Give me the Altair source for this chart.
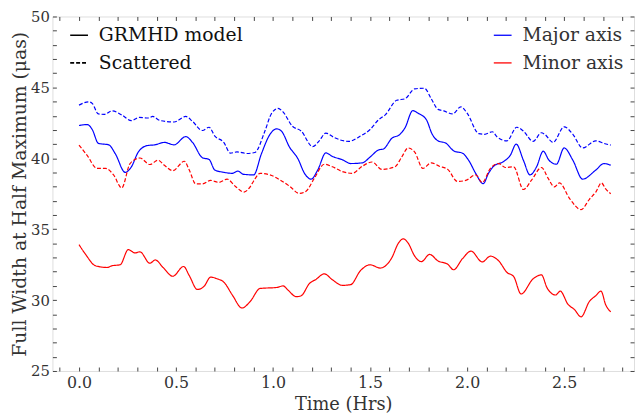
import altair as alt
import pandas as pd

# ---- data ----
major_scat_t = [0.0, 0.05, 0.068, 0.10, 0.13, 0.17, 0.22, 0.27, 0.31, 0.356, 0.38, 0.416, 0.49, 0.55, 0.585,
                0.636, 0.67, 0.70, 0.746, 0.78, 0.814, 0.865, 0.906, 0.958, 0.99, 1.026, 1.05, 1.10, 1.145,
                1.204, 1.238, 1.272, 1.315, 1.39, 1.45, 1.50, 1.544, 1.578, 1.637, 1.68, 1.73, 1.78, 1.815,
                1.85, 1.88, 1.925, 1.968, 2.0, 2.06, 2.09, 2.13, 2.155, 2.205, 2.256, 2.29, 2.34, 2.383,
                2.40, 2.443, 2.50, 2.545, 2.595, 2.663, 2.705, 2.74]
major_scat_w = [43.75, 43.98, 43.87, 43.13, 43.1, 43.34, 43.06, 42.65, 42.88, 42.84, 42.95, 42.67, 42.56, 42.95,
                42.6, 41.96, 42.19, 41.57, 41.12, 40.36, 40.45, 40.34, 40.41, 41.92, 43.11, 43.52, 43.29,
                42.26, 41.92, 40.82, 41.23, 41.78, 41.46, 41.19, 41.57, 42.03, 42.72, 43.06, 44.09, 44.2,
                44.9, 44.94, 44.2, 43.45, 43.34, 43.13, 43.63, 43.18, 41.74, 41.69, 41.87, 41.5, 41.23,
                42.19, 41.92, 41.19, 41.8, 41.69, 41.12, 42.22, 41.69, 40.73, 41.23, 41.05, 40.93]

major_grmhd_t = [0.0, 0.042, 0.068, 0.10, 0.153, 0.187, 0.238, 0.27, 0.305, 0.35, 0.39, 0.44, 0.49, 0.55,
                 0.585, 0.636, 0.67, 0.70, 0.746, 0.79, 0.818, 0.848, 0.90, 0.94, 0.984, 1.018, 1.043, 1.085,
                 1.128, 1.162, 1.196, 1.23, 1.272, 1.306, 1.357, 1.40, 1.46, 1.50, 1.544, 1.569, 1.612,
                 1.654, 1.68, 1.72, 1.747, 1.79, 1.82, 1.85, 1.89, 1.934, 1.976, 2.01, 2.044, 2.083, 2.11,
                 2.137, 2.19, 2.222, 2.253, 2.29, 2.324, 2.358, 2.392, 2.422, 2.46, 2.50, 2.545, 2.595,
                 2.663, 2.705, 2.74]
major_grmhd_w = [42.31, 42.38, 42.03, 41.05, 40.95, 40.32, 39.01, 39.4, 40.43, 40.89, 40.95, 41.12, 40.95,
                 41.53, 41.12, 40.04, 39.92, 39.17, 39.01, 38.94, 39.1, 38.87, 38.83, 40.32, 41.69, 42.08,
                 41.92, 40.78, 39.97, 38.94, 38.53, 39.17, 40.38, 40.13, 39.9, 39.63, 39.68, 40.09, 40.59,
                 40.66, 41.41, 41.69, 42.15, 43.36, 43.18, 42.72, 41.7, 41.23, 41.07, 40.5, 40.36, 39.81,
                 38.94, 38.21, 38.94, 39.44, 39.79, 40.2, 41.0, 39.86, 38.83, 39.4, 40.5, 39.86, 39.58,
                 40.73, 39.86, 38.53, 39.17, 39.63, 39.51]

minor_scat_t = [0.0, 0.042, 0.093, 0.136, 0.178, 0.22, 0.263, 0.314, 0.365, 0.407, 0.44, 0.483, 0.543,
                0.568, 0.602, 0.636, 0.678, 0.72, 0.763, 0.805, 0.85, 0.88, 0.90, 0.933, 0.984, 1.035,
                1.085, 1.136, 1.17, 1.213, 1.264, 1.306, 1.357, 1.408, 1.46, 1.51, 1.56, 1.628, 1.663,
                1.696, 1.73, 1.772, 1.815, 1.857, 1.90, 1.95, 1.993, 2.044, 2.078, 2.12, 2.163, 2.197,
                2.24, 2.29, 2.333, 2.383, 2.417, 2.45, 2.476, 2.528, 2.587, 2.63, 2.663, 2.692, 2.714, 2.74]
minor_scat_w = [40.93, 40.2, 39.29, 39.29, 38.83, 37.91, 39.63, 40.02, 39.56, 39.86, 39.51, 39.13, 39.79,
                39.17, 38.19, 38.19, 38.44, 38.3, 38.53, 38.03, 37.62, 37.95, 38.4, 38.94, 38.83, 38.48,
                38.03, 37.52, 37.68, 38.6, 39.58, 39.4, 39.06, 38.94, 39.44, 39.74, 39.22, 39.4, 40.09,
                40.73, 40.43, 39.29, 39.68, 39.44, 39.22, 38.37, 38.44, 38.83, 38.3, 39.29, 39.63, 39.35,
                39.4, 37.8, 38.48, 39.35, 38.6, 37.98, 38.26, 37.16, 36.38, 37.11, 37.62, 38.26, 37.84, 37.5]

minor_grmhd_t = [0.0, 0.034, 0.085, 0.144, 0.17, 0.212, 0.254, 0.288, 0.314, 0.365, 0.393, 0.433, 0.483,
                 0.539, 0.568, 0.61, 0.645, 0.678, 0.712, 0.746, 0.79, 0.84, 0.882, 0.933, 1.018, 1.052,
                 1.077, 1.12, 1.145, 1.187, 1.221, 1.264, 1.306, 1.357, 1.40, 1.45, 1.50, 1.552, 1.612,
                 1.646, 1.671, 1.696, 1.73, 1.764, 1.807, 1.85, 1.90, 1.93, 1.976, 2.02, 2.078, 2.12,
                 2.163, 2.205, 2.24, 2.278, 2.34, 2.383, 2.412, 2.456, 2.48, 2.519, 2.553, 2.587, 2.63,
                 2.663, 2.69, 2.714, 2.74]
minor_grmhd_w = [33.91, 33.22, 32.42, 32.3, 32.42, 32.49, 33.56, 33.33, 33.4, 32.6, 32.83, 32.3, 31.68,
                 32.37, 31.73, 30.75, 30.98, 31.62, 31.5, 31.27, 30.36, 29.44, 29.9, 30.82, 30.89, 31.0,
                 30.7, 30.24, 30.31, 31.16, 31.46, 31.85, 31.43, 31.04, 31.09, 32.07, 32.49, 32.26, 32.99,
                 34.02, 34.32, 34.02, 33.1, 32.71, 33.22, 32.76, 32.53, 32.14, 32.92, 33.45, 32.69, 33.1,
                 32.76, 31.96, 31.66, 30.43, 31.5, 31.78, 30.86, 30.36, 30.63, 29.72, 29.33, 28.82, 29.9,
                 30.31, 30.63, 29.67, 29.17]

axis_names = ["Major axis", "Minor axis"]
kind_names = ["GRMHD model", "Scattered"]
line_colors = ["#0000ff", "#ff0000"]

x_ticks = [round(-0.1 + 0.1 * i, 1) for i in range(30)]
y_ticks = list(range(25, 51))

series = [
    (major_grmhd_t, major_grmhd_w, "Major axis", "GRMHD model"),
    (major_scat_t, major_scat_w, "Major axis", "Scattered"),
    (minor_grmhd_t, minor_grmhd_w, "Minor axis", "GRMHD model"),
    (minor_scat_t, minor_scat_w, "Minor axis", "Scattered"),
]
rows = []
for ts, ws, ax, kd in series:
    for t, w in zip(ts, ws):
        rows.append({"t": t, "w": w, "axis": ax, "kind": kd, "key": ax + kd})
df = pd.DataFrame(rows)

FONT = "DejaVu Serif"
TXT = "#333333"
FRAME = "#444444"

xscale = alt.Scale(domain=[-0.137, 2.86], nice=False, zero=False)
yscale = alt.Scale(domain=[25, 50], nice=False, zero=False)

x_label_expr = "abs(datum.value*2 - round(datum.value*2)) < 0.001 ? format(datum.value, '.1f') : ''"
y_label_expr = "datum.value % 5 == 0 ? format(datum.value, 'd') : ''"

main = alt.Chart(df).mark_line(strokeWidth=1.2, interpolate="monotone").encode(
    x=alt.X("t:Q", scale=xscale,
            axis=alt.Axis(orient="bottom", values=x_ticks, labelExpr=x_label_expr, title="Time (Hrs)",
                          grid=False, domain=False, tickSize=4, offset=-4, tickColor=FRAME,
                          labelFont=FONT, labelFontSize=16, labelColor=TXT, labelPadding=4,
                          titleFont=FONT, titleFontSize=18, titleFontWeight="normal", titleColor=TXT,
                          titlePadding=5, labelFlush=False)),
    y=alt.Y("w:Q", scale=yscale,
            axis=alt.Axis(orient="left", values=y_ticks, labelExpr=y_label_expr,
                          title="Full Width at Half Maximum (μas)",
                          grid=False, domain=False, tickSize=4, offset=-4, tickColor=FRAME,
                          labelFont=FONT, labelFontSize=15, labelColor=TXT, labelPadding=3,
                          titleFont=FONT, titleFontSize=19, titleFontWeight="normal", titleColor=TXT,
                          titlePadding=1, labelFlush=False)),
    color=alt.Color("axis:N", scale=alt.Scale(domain=axis_names, range=line_colors),
                    legend=alt.Legend(orient="none", legendX=446, legendY=9, title=None,
                                      symbolType="stroke", symbolSize=324, symbolStrokeWidth=1.3,
                                      labelFont=FONT, labelFontSize=19, labelColor=TXT,
                                      labelOffset=10, rowPadding=8, padding=0)),
    strokeDash=alt.StrokeDash("kind:N", scale=alt.Scale(domain=kind_names, range=[[1, 0], [4, 2]]),
                              legend=alt.Legend(orient="none", legendX=17, legendY=9, title=None,
                                                symbolType="stroke", symbolSize=324, symbolStrokeWidth=1.6,
                                                symbolStrokeColor="black",
                                                labelFont=FONT, labelFontSize=19, labelColor="#111111",
                                                labelOffset=10, rowPadding=8, padding=0)),
    detail="key:N",
)

mirror = alt.Chart(df).mark_line(strokeOpacity=0).encode(
    x=alt.X("t:Q", scale=xscale,
            axis=alt.Axis(orient="top", values=x_ticks, labels=False, title=None, grid=False,
                          domain=False, tickSize=4, offset=-4, tickColor=FRAME)),
    y=alt.Y("w:Q", scale=yscale,
            axis=alt.Axis(orient="right", values=y_ticks, labels=False, title=None, grid=False,
                          domain=False, tickSize=4, offset=-4, tickColor=FRAME)),
    detail="key:N",
)

chart = alt.layer(main, mirror).resolve_axis(x="independent", y="independent").properties(
    width=589, height=359,
    autosize=alt.AutoSizeParams(type="none"),
    padding={"left": 45, "top": 6, "right": 1, "bottom": 44},
).configure_view(stroke=FRAME, strokeWidth=1.2).configure(background="white")

chart.save("out.html", embed_options={"renderer": "svg", "actions": False})
